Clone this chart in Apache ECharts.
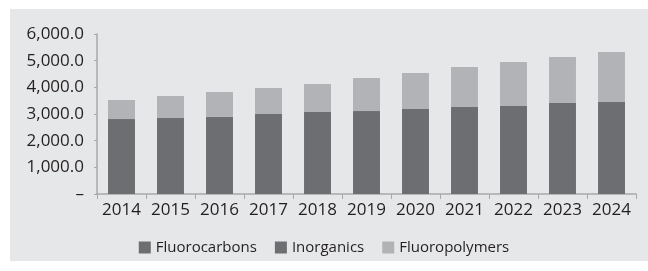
<!DOCTYPE html>
<html>
<head>
<meta charset="utf-8">
<script src="https://cdn.jsdelivr.net/npm/echarts@6/dist/echarts.min.js"></script>
<style>
  html, body { margin: 0; padding: 0; background: #ffffff; }
  #wrap { position: relative; width: 648px; height: 271px; }
  #bg { position: absolute; left: 10px; top: 9px; width: 638px; height: 252px; background: #e6e7e8; }
  #chart { position: absolute; left: 0; top: 0; width: 648px; height: 271px; }
</style>
</head>
<body>
<div id="wrap">
  <div id="bg"></div>
  <div id="chart"></div>
</div>
<script>
const years = ["2014", "2015", "2016", "2017", "2018", "2019", "2020", "2021", "2022", "2023", "2024"];
// dark segment (no visible split between the two dark series in the picture)
const fluorocarbons = [2810, 2850, 2890, 3000, 3075, 3110, 3190, 3260, 3300, 3410, 3450];
const inorganics = [0, 0, 0, 0, 0, 0, 0, 0, 0, 0, 0];
const fluoropolymers = [715, 825, 935, 975, 1050, 1240, 1350, 1500, 1650, 1730, 1875];

const dark = "#6d6e71";
const light = "#b1b3b6";
const axisColor = "#a7a9ac";
const font = "Open Sans";

const chart = echarts.init(document.getElementById("chart"), null, { renderer: "canvas" });

function fmt(v) {
  if (v === 0) return "–";
  return v.toLocaleString("en-US", { minimumFractionDigits: 1, maximumFractionDigits: 1 });
}

const barBase = { type: "bar", stack: "total", barWidth: "55%" };

chart.setOption({
  backgroundColor: "transparent",
  animation: false,
  textStyle: { fontFamily: font },
  grid: { left: 97, right: 12, top: 34, bottom: 77 },
  legend: {
    bottom: 11,
    left: "center",
    itemWidth: 12,
    itemHeight: 12,
    itemGap: 18,
    icon: "rect",
    textStyle: { fontSize: 15, color: "#231f20", fontFamily: font },
    data: ["Fluorocarbons", "Inorganics", "Fluoropolymers"],
  },
  xAxis: {
    type: "category",
    data: years,
    axisLine: { lineStyle: { color: axisColor, width: 1.5 } },
    axisTick: { show: true, length: 5, lineStyle: { color: axisColor } },
    axisLabel: { fontSize: 17, color: "#231f20", margin: 8, interval: 0, hideOverlap: false },
  },
  yAxis: {
    type: "value",
    min: 0,
    max: 6000,
    interval: 1000,
    splitLine: { show: false },
    axisLine: { show: true, lineStyle: { color: axisColor, width: 1.5 } },
    axisTick: { show: true, length: 3, lineStyle: { color: axisColor } },
    axisLabel: { fontSize: 17, color: "#231f20", margin: 13, formatter: fmt },
  },
  series: [
    { ...barBase, name: "Fluorocarbons", data: fluorocarbons, itemStyle: { color: dark } },
    { ...barBase, name: "Inorganics", data: inorganics, itemStyle: { color: dark } },
    { ...barBase, name: "Fluoropolymers", data: fluoropolymers, itemStyle: { color: light } },
  ],
});
</script>
</body>
</html>
